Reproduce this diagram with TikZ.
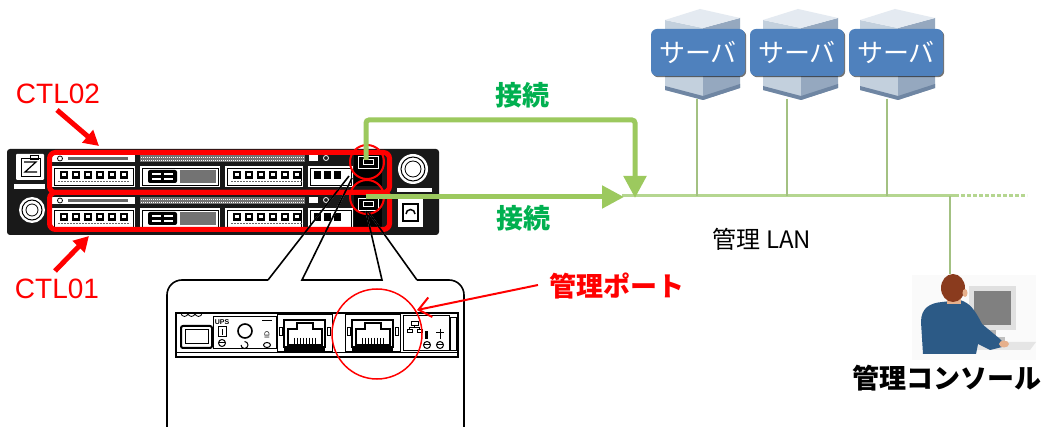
\documentclass[tikz,border=0pt]{standalone}
\usepackage{fontspec}
\setmainfont{Liberation Sans}
\newfontfamily\jp{Noto Sans CJK JP}
\usetikzlibrary{arrows.meta,shadows}
\definecolor{myred}{HTML}{FF0000}
\definecolor{lblgreen}{HTML}{00B050}
\definecolor{arrgreen}{HTML}{9CC95E}
\definecolor{langreen}{HTML}{B5D690}
\definecolor{srvblue}{HTML}{4F81BD}
\definecolor{suit}{HTML}{2C5A86}
\definecolor{hair}{HTML}{8A3B1E}
\definecolor{skin}{HTML}{E6B08C}
\definecolor{srvtop}{HTML}{E4EAF1}
\definecolor{srvleft}{HTML}{C3D0DD}
\definecolor{srvright}{HTML}{95A8BF}
\definecolor{srvbase}{HTML}{6F86A3}
\begin{document}
\begin{tikzpicture}[x=1pt,y=-1pt,
  redbox/.style={draw=myred, line width=5pt, rounded corners=6pt, inner sep=0pt},
  redring/.style={circle, draw=myred, line width=2pt, inner sep=0pt},
  redarrow/.style={draw=myred, line width=5pt, -{Triangle[length=15pt,width=16pt]}},
  thinredarrow/.style={draw=myred, line width=2pt, -{Straight Barb[length=12pt,width=20pt]}},
  greenarrow/.style={draw=arrgreen, line width=5pt, -{Triangle[length=22pt,width=22pt]}},
  lanline/.style={draw=langreen, line width=3pt},
  srvline/.style={draw=langreen!90!black, line width=2.2pt},
  redlbl/.style={text=myred, font=\fontsize{28}{30}\selectfont, inner sep=0pt},
  greenlbl/.style={text=lblgreen, font=\jp\bfseries\fontsize{27}{30}\selectfont, inner sep=0pt},
  srvlbl/.style={fill=srvblue, rounded corners=6pt, minimum width=94pt, minimum height=47pt,
     text=white, font=\jp\fontsize{26}{28}\selectfont, inner sep=0pt,
     drop shadow={shadow xshift=1.2pt, shadow yshift=-1.2pt, fill=black, opacity=0.55}},
  callout/.style={draw=black, line width=1.6pt},
  thin/.style={line width=0.8pt},
  pics/rjport/.style={code={
     \draw[line width=1pt, fill=white] (0,0) rectangle (55,37);
     \draw[line width=1.5pt] (7,5) rectangle (48,32);
     \draw[line width=1.2pt, fill=white] (11,14) -- (20,14) -- (20,8) -- (36,8) -- (36,14) -- (45,14) -- (45,30) -- (11,30) -- cycle;
     \foreach \i in {0,...,7} {\draw[line width=1pt] (17+3*\i,23) -- (17+3*\i,29);}
     \draw[line width=0.8pt] (2,12) rectangle (5,20);
     \draw[line width=0.8pt] (50,12) rectangle (53,20);
     \fill (7,33) rectangle (48,37);
  }}
]
\useasboundingbox (0,0) rectangle (1049,427);
\fill[white] (0,0) rectangle (1049,427);

% ---------------- storage device ----------------
\fill[black!90, rounded corners=3pt] (7,149) rectangle (439,235);
% left end
\fill[white, rounded corners=1pt] (16,154) rectangle (44,180);
\draw[thin] (21,158) rectangle (40,176);
\draw[line width=1.2pt] (24,162) -- (36,162) -- (25,172) -- (37,172);
\draw[thin] (30,155) rectangle (38,159);
\fill[white] (14,184) rectangle (45,189);
\fill[white] (32,210) circle[radius=13];
\draw[line width=1pt] (32,210) circle[radius=10];
\draw[thin] (32,210) circle[radius=6];
% right end
\fill[white] (413,169) circle[radius=15];
\draw[line width=1pt] (413,169) circle[radius=12];
\draw[thin] (413,169) circle[radius=8];
\fill[white] (398,198) rectangle (423,227);
\draw[line width=1.2pt] (403,204) rectangle (418,221);
\draw[line width=1.5pt] (406,214) arc[start angle=180, end angle=360, radius=4.5];
\fill[white] (397,188) rectangle (432,192);

% controllers
\foreach \yo in {150,192} {
  \fill[white] (52,\yo+5) rectangle (135,\yo+12);
  \draw[thin] (60,\yo+8.5) circle[radius=2.5];
  \fill[black!60] (68,\yo+7) rectangle (128,\yo+10);
  \fill[black!55] (140,\yo+5) rectangle (305,\yo+12);
  \draw[white, line width=0.8pt, dash pattern=on 1pt off 1pt] (141,\yo+7) -- (304,\yo+7);
  \draw[white, line width=0.8pt, dash pattern=on 1pt off 1pt] (141,\yo+10) -- (304,\yo+10);
  \fill[white] (309,\yo+5) rectangle (318,\yo+11);
  \draw[white, thin] (326,\yo+8) circle[radius=2.5];
  % modules
  \foreach \mx/\mw in {52/83,140/80,225/78,308/45} {
    \fill[white] (\mx,\yo+16) rectangle (\mx+\mw,\yo+37);
    \draw[thin] (\mx+2,\yo+18) rectangle (\mx+\mw-2,\yo+35);
  }
  \foreach \px in {60,233} {
    \foreach \i in {0,...,5} {
      \fill (\px+12*\i,\yo+21) rectangle ++(8,8);
      \fill[white] (\px+2+12*\i,\yo+23) rectangle ++(4,3);
    }
    \draw[black!60, line width=1pt, dash pattern=on 2pt off 1pt] (\px-2,\yo+32) -- (\px+70,\yo+32);
  }
  \fill[rounded corners=2pt] (148,\yo+20) rectangle (177,\yo+33);
  \draw[white, line width=1.2pt] (152,\yo+24) -- (161,\yo+24) (164,\yo+24) -- (173,\yo+24);
  \draw[white, line width=1.2pt] (152,\yo+29) -- (161,\yo+29) (164,\yo+29) -- (173,\yo+29);
  \fill[black!55] (180,\yo+20) rectangle (216,\yo+33);
  \foreach \i in {0,1,2} {
    \fill (314+10*\i,\yo+21) rectangle ++(7,8);
  }
  \fill (354,\yo+3) rectangle (382,\yo+36);
  \draw[white, thin] (358,\yo+6) rectangle (378,\yo+18);
  \draw[white, thin] (363,\yo+9) rectangle (373,\yo+14);
}

% callout lines over the device (white part)
\begin{scope}
  \clip (7,149) rectangle (439,235);
  \draw[white, line width=1.3pt] (268,280) -- (349,176);
  \draw[white, line width=1.3pt] (302,280) -- (352,178);
  \draw[white, line width=1.3pt] (382,280) -- (366,211);
  \draw[white, line width=1.3pt] (417,280) -- (369,213);
\end{scope}

% red boxes and rings
\node[redbox, minimum width=340pt, minimum height=40pt] (ctl02box) at (219.5,172.5) {};
\node[redbox, minimum width=340pt, minimum height=37pt] (ctl01box) at (219.5,211) {};
\node[redring, minimum size=34pt] (ringU) at (367,162) {};
\node[redring, minimum size=34pt] (ringL) at (367,197) {};

% CTL labels
\node[redlbl] (ctl02) at (58,94) {CTL02};
\coordinate (c2s) at (57,110);
\coordinate (c2t) at (99,146);
\draw[redarrow] (c2s) -- (c2t);
\node[redlbl] (ctl01) at (57,289) {CTL01};
\coordinate (c1s) at (55,271);
\coordinate (c1t) at (89,236);
\draw[redarrow] (c1s) -- (c1t);

% ---------------- LAN ----------------
\coordinate (lanW) at (622,196);
\coordinate (lanD) at (955,196);
\coordinate (lanE) at (1027,196);
\draw[lanline] (lanW) -- (lanD);
\draw[lanline, dash pattern=on 4pt off 2pt] (lanD) -- (lanE);

% green connections
\coordinate (portU) at (366,160);
\coordinate (topc) at (500,120);
\coordinate (lanA) at (635,198);
\draw[greenarrow, rounded corners=3pt] (portU) |- (topc) -| (lanA);
\coordinate (portL) at (366,197);
\coordinate (lanB) at (624,197);
\draw[greenarrow] (portL) -- (lanB);
\node[greenlbl] (conn1) at (522,95) {接続};
\node[greenlbl] (conn2) at (523,218) {接続};

\node[font=\jp\fontsize{24}{26}\selectfont, inner sep=0pt] (lan) at (762,239) {管理 LAN};

% ---------------- servers ----------------
\foreach \dx [count=\k] in {0,98,195} {
  \begin{scope}[xshift=\dx pt]
    \fill[srvleft] (665,20) -- (703,28) -- (703,100) -- (665,90) -- cycle;
    \fill[srvright] (703,28) -- (740,18) -- (740,88) -- (703,100) -- cycle;
    \fill[srvtop] (665,20) -- (700,9) -- (740,18) -- (703,28) -- cycle;
    \fill[srvbase] (665,86) -- (703,96) -- (740,84) -- (740,88) -- (703,100) -- (665,90) -- cycle;
  \end{scope}
}
\coordinate (sb1) at (697,99);
\coordinate (sb2) at (787,99);
\coordinate (sb3) at (887,99);
\draw[srvline] (sb1) -- (sb1 |- lanW);
\draw[srvline] (sb2) -- (sb2 |- lanW);
\draw[srvline] (sb3) -- (sb3 |- lanW);
\node[srvlbl] (srv1) at (698,52.5) {サーバ};
\node[srvlbl] (srv2) at (797,52.5) {サーバ};
\node[srvlbl] (srv3) at (896,52.5) {サーバ};

% ---------------- console ----------------
\coordinate (cons) at (950,274);
\draw[srvline] (cons) -- (cons |- lanW);
\fill[black!2] (912,275) rectangle (1036,360);
\fill[black!12] (969,286) rectangle (1016,330);
\fill[black!50] (974,291) rectangle (1011,325);
\fill[black!30] (989,330) rectangle (996,338);
\fill[black!25] (980,337) rectangle (1005,341);
\fill[black!10] (958,342) -- (1036,342) -- (1030,350) -- (958,350) -- cycle;
\fill[suit] (923,354) -- (921,322) .. controls (921,308) and (930,303) .. (942,302) -- (960,300)
   .. controls (970,303) and (975,310) .. (982,324) -- (1000,339) -- (1006,346) -- (990,350)
   -- (978,344) -- (976,354) -- cycle;
\fill[skin] (1004,344) ellipse[x radius=5, y radius=3.5];
\fill[skin] (947,294) rectangle (961,304);
\fill[hair] (953,288) ellipse[x radius=12, y radius=14];
\fill[skin] (965,293) ellipse[x radius=2.5, y radius=4];
\node[font=\jp\bfseries\fontsize{27}{30}\selectfont, inner sep=0pt] (console) at (947,378) {管理コンソール};

% ---------------- inset ----------------
\draw[callout, rounded corners=15pt] (167,430) -- (167,280) -- (268,280);
\draw[callout] (268,280) -- (349,176);
\draw[callout] (352,178) -- (302,280) -- (382,280) -- (366,211);
\draw[callout, rounded corners=15pt] (417,280) -- (464,280) -- (464,430);
\draw[callout] (417,280) -- (369,213);

% panel
\draw[line width=1.5pt, fill=white] (176,313) rectangle (458,357);
\draw[thin] (176,352) -- (458,352);
\foreach \x in {181,188,195} {\draw[thin] (\x,313) arc[start angle=180, end angle=0, radius=3.5];}
\draw[line width=2pt, rounded corners=2pt, fill=white] (181,326) rectangle (212,348);
\draw[line width=1pt] (185,330) rectangle (208,344);
\draw[line width=1pt] (213,317) rectangle (276,349);
\node[font=\bfseries\fontsize{7}{7}\selectfont, inner sep=0pt] (ups) at (222,322) {UPS};
\draw[line width=1pt] (218,327) rectangle (226,337);
\draw[line width=1pt] (222,329) -- (222,335);
\draw[line width=1pt] (222,343) circle[radius=3.5];
\draw[line width=1pt] (219,343) -- (225,343);
\draw[line width=1.6pt] (245,331) circle[radius=7];
\draw[line width=1pt] (241,345) arc[start angle=180, end angle=-90, radius=3.5];
\draw[line width=1pt] (262,321) -- (272,321);
\node[font=\fontsize{7}{7}\selectfont, inner sep=0pt, rotate=90] (idl) at (267,335) {ID};
\draw[line width=1pt] (267,345) ellipse[x radius=3.5, y radius=2.5];
\pic at (277,315) {rjport};
\pic at (345,315) {rjport};
\draw[line width=1pt] (403,316) rectangle (449,351);
\draw[thin] (411,321) rectangle (418,325);
\draw[thin] (407,329) rectangle (412,332);
\draw[thin] (417,329) rectangle (422,332);
\draw[thin] (414.5,325) -- (414.5,327) (409.5,327) -- (419.5,327) (409.5,327) -- (409.5,329) (419.5,327) -- (419.5,329);
\fill (425,331) rectangle (428,339);
\draw[line width=1pt] (427,345) circle[radius=3.5];
\draw[line width=1pt] (424,345) -- (430,345);
\draw[line width=1pt] (440,329) -- (440,339) (436,333) -- (444,333);
\draw[line width=1pt] (440,345) circle[radius=3.5];
\draw[line width=1pt] (437,345) -- (443,345);
\draw[thin] (450,317) rectangle (456,350);
\node[redring, line width=1.5pt, minimum size=90pt] (ringP) at (377,334) {};

% management port label
\node[text=myred, font=\jp\bfseries\fontsize{27}{30}\selectfont, inner sep=0pt] (mport) at (617,286) {管理ポート};
\coordinate (mps) at (538,285);
\coordinate (mpt) at (417,310);
\draw[thinredarrow] (mps) -- (mpt);
\end{tikzpicture}
\end{document}
